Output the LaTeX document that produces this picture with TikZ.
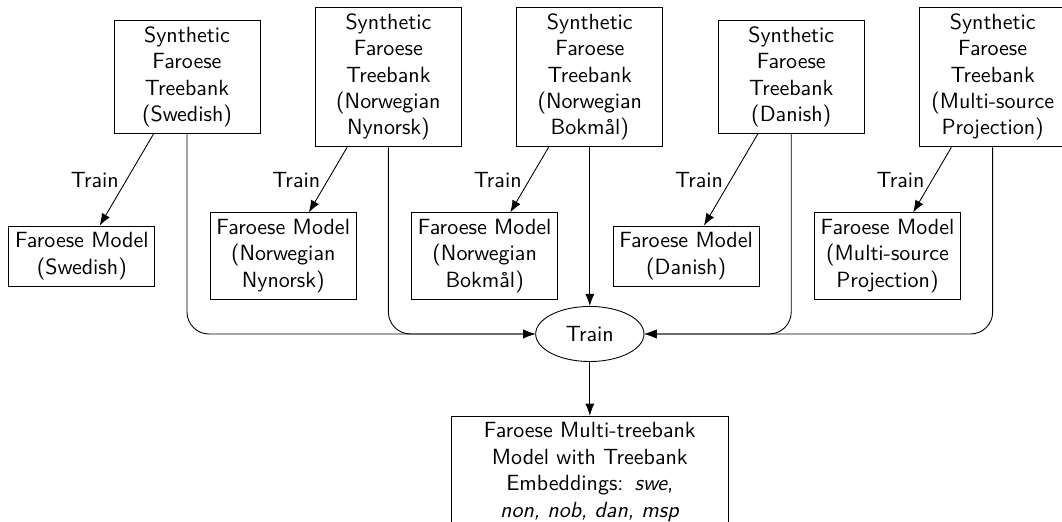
\documentclass[tikz,border=0pt]{standalone}
\usepackage{tikz}
\usetikzlibrary{arrows, arrows.meta, calc, positioning, shapes.geometric}
\renewcommand{\familydefault}{\sfdefault}

\begin{document}
\begin{tikzpicture}[tbstyle/.style={
	draw,rectangle,text width=2.2cm,inner xsep=1.9pt,inner ysep=2.9pt,align=center
}]
	\useasboundingbox (-2.987,1.230) rectangle (13.978,-7.093);

	\node[tbstyle] at (0,0) (s0) {Synthetic\\Faroese\\Treebank\\(Swedish)};
	\node[tbstyle,right=0.87cm of s0] (s1) {Synthetic\\Faroese\\Treebank\\(Norwegian\\Nynorsk)};
	\node[tbstyle,right=0.87cm of s1] (s2) {Synthetic\\Faroese\\Treebank\\(Norwegian\\Bokmål)};
	\node[tbstyle,right=0.87cm of s2] (s3) {Synthetic\\Faroese\\Treebank\\(Danish)};
	\node[tbstyle,right=0.87cm of s3] (s4) {Synthetic\\Faroese\\Treebank\\(Multi-source\\Projection)};

	\node[tbstyle] at ($(s0)+(-1.68,-2.86)$) (m0) {Faroese Model\\(Swedish)};
	\node[tbstyle] at ($(s1)+(-1.68,-2.86)$) (m1) {Faroese Model\\(Norwegian\\Nynorsk)};
	\node[tbstyle] at ($(s2)+(-1.68,-2.86)$) (m2) {Faroese Model\\(Norwegian\\Bokmål)};
	\node[tbstyle] at ($(s3)+(-1.68,-2.86)$) (m3) {Faroese Model\\(Danish)};
	\node[tbstyle] at ($(s4)+(-1.68,-2.86)$) (m4) {Faroese Model\\(Multi-source\\Projection)};

	\node[draw,ellipse,minimum width=1.73cm,minimum height=0.88cm] at ($(s2)+(0,-4.105)$) (tTrain) {Train};
	\node[tbstyle,text width=4.3cm,below=0.86cm of tTrain] (tOut) {Faroese Multi-treebank\\Model with Treebank\\Embeddings: \textit{swe},\\\textit{non, nob, dan, msp}};

	\draw[-{Latex[length=5.5pt]}] (s0) -- node[left] {Train} (m0);
	\draw[-{Latex[length=5.5pt]}] (s1) -- node[left] {Train} (m1);
	\draw[-{Latex[length=5.5pt]}] (s2) -- node[left] {Train} (m2);
	\draw[-{Latex[length=5.5pt]}] (s3) -- node[left] {Train} (m3);
	\draw[-{Latex[length=5.5pt]}] (s4) -- node[left] {Train} (m4);

	\draw[-{Latex[length=5.5pt]},rounded corners=10pt] (s0) |- (tTrain);
	\draw[-{Latex[length=5.5pt]},rounded corners=10pt] (s1) |- (tTrain);
	\draw[-{Latex[length=5.5pt]}] (s2) -- (tTrain);
	\draw[-{Latex[length=5.5pt]},rounded corners=10pt] (s3) |- (tTrain);
	\draw[-{Latex[length=5.5pt]},rounded corners=10pt] (s4) |- (tTrain);
	\draw[-{Latex[length=5.5pt]}] (tTrain) -- (tOut);
\end{tikzpicture}
\end{document}
